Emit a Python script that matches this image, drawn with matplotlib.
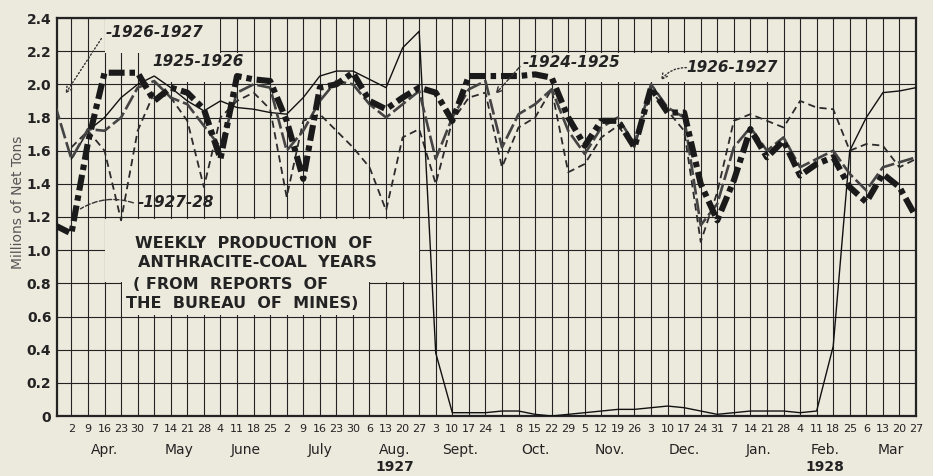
import matplotlib.pyplot as plt
import numpy as np
from matplotlib.patches import Rectangle

# week-ending dates along the 1927-28 coal year
week_labels = ['2', '9', '16', '23', '30', '7', '14', '21', '28', '4', '11', '18', '25',
               '2', '9', '16', '23', '30', '6', '13', '20', '27', '3', '10', '17', '24',
               '1', '8', '15', '22', '29', '5', '12', '19', '26', '3', '10', '17', '24', '31',
               '7', '14', '21', '28', '4', '11', '18', '25', '6', '13', '20', '27']
months = ['Apr.', 'May', 'June', 'July', 'Aug.', 'Sept.', 'Oct.', 'Nov.', 'Dec.', 'Jan.', 'Feb.', 'Mar']
weeks_per_month = [5, 4, 4, 5, 4, 4, 5, 4, 5, 4, 4, 4]
years = ['1927', '1928']
year_month = ['Aug.', 'Feb.']

# millions of net tons, first value is the week before Apr 2
nan = np.nan
y1927_28 = [1.15, 1.10, 1.65, 2.07, 2.07, 2.07, 1.90, 1.98, 1.95, 1.85, 1.55, 2.05, 2.03,
            2.02, 1.78, 1.43, 1.98, 2.00, 2.07, 1.90, 1.85, 1.92, 1.98, 1.95, 1.78, 2.05,
            2.05, 2.05, 2.05, 2.06, 2.04, 1.80, 1.63, 1.78, 1.78, 1.62, 1.98, 1.83, 1.83,
            1.40, 1.18, 1.42, 1.73, 1.56, 1.66, 1.45, 1.52, 1.56, 1.38, 1.29, 1.46, 1.38, 1.20]
y1926_27 = [1.88, 1.55, 1.73, 1.72, 1.80, 1.98, 2.02, 1.92, 1.88, 1.75, 1.62, 1.95, 2.00,
            1.98, 1.60, 1.72, 1.90, 2.02, 2.00, 1.88, 1.80, 1.88, 1.96, 1.55, 1.80, 1.97,
            2.02, 1.62, 1.82, 1.88, 1.97, 1.72, 1.58, 1.74, 1.80, 1.64, 2.00, 1.86, 1.80,
            1.15, 1.28, 1.62, 1.74, 1.60, 1.68, 1.50, 1.55, 1.60, 1.46, 1.36, 1.50, 1.53, 1.56]
y1925_26 = [nan, 1.55, 1.72, 1.80, 1.92, 2.00, 2.05, 1.98, 1.90, 1.84, 1.90, 1.86, 1.85,
            1.83, 1.82, 1.92, 2.05, 2.08, 2.08, 2.03, 1.98, 2.22, 2.32, 0.38, 0.02, 0.02,
            0.02, 0.03, 0.03, 0.01, 0.00, 0.01, 0.02, 0.03, 0.04, 0.04, 0.05, 0.06, 0.05,
            0.03, 0.01, 0.02, 0.03, 0.03, 0.03, 0.02, 0.03, 0.42, 1.60, 1.80, 1.95, 1.96, 1.98]
y1924_25 = [nan, 1.62, 1.72, 1.60, 1.18, 1.72, 1.95, 1.92, 1.78, 1.38, 1.80, 1.90, 1.95,
            1.85, 1.32, 1.78, 1.82, 1.72, 1.62, 1.50, 1.24, 1.68, 1.73, 1.40, 1.78, 1.92,
            1.95, 1.50, 1.74, 1.80, 1.97, 1.47, 1.52, 1.68, 1.75, 1.62, 1.96, 1.84, 1.72,
            1.05, 1.35, 1.78, 1.82, 1.78, 1.74, 1.90, 1.86, 1.85, 1.60, 1.64, 1.63, 1.50, 1.55]

BG = '#ece9dd'
INK = '#232323'

fig = plt.figure(figsize=(9.33, 4.76), dpi=100, facecolor=BG)
ax = fig.add_axes([57 / 933, 1 - 416 / 476, 859 / 933, 398 / 476], facecolor=BG)

x = np.arange(-1, 52)
ax.set_xlim(-0.87, 51)
ax.set_ylim(0, 2.4)

ax.set_xticks(np.arange(52))
ax.set_xticklabels(week_labels, fontsize=8, color=INK)
yt = np.round(np.arange(0, 2.41, 0.2), 1)
ax.set_yticks(yt)
ax.set_yticklabels(['0'] + [f'{v:.1f}' for v in yt[1:]], fontsize=10, fontweight='bold', color=INK)
ax.tick_params(axis='both', length=0)
ax.tick_params(axis='x', pad=6)
ax.tick_params(axis='y', pad=4)

ax.set_axisbelow(True)
ax.grid(True, color=INK, lw=0.8)
for s in ax.spines.values():
    s.set_color(INK)
    s.set_linewidth(1.6)

# blank paper behind the labels and the title block
for (x0, y0, x1, y1) in [(2.04, 2.19, 8.96, 2.4), (4.95, 2.015, 10.4, 2.19),
                         (27.2, 2.015, 42.7, 2.19), (2.04, 0.81, 20.96, 1.19),
                         (3.04, 0.61, 17.96, 0.815)]:
    ax.add_patch(Rectangle((x0, y0), x1 - x0, y1 - y0, facecolor=BG, edgecolor='none', zorder=1.2))

ax.plot(x, y1924_25, color='#2b2b2b', lw=1.3, ls=(0, (4, 2.5)), zorder=3)
ax.plot(x, y1925_26, color='#111111', lw=1.0, zorder=3.2)
ax.plot(x, y1926_27, color='#444444', lw=1.9, ls=(0, (6, 1.5)), zorder=3.4)
ax.plot(x, y1927_28, color='#1a1a1a', lw=4.4, ls=(0, (2.6, 0.8, 0.9, 0.8)),
        dash_capstyle='butt', zorder=4)

lab = dict(fontsize=11, fontstyle='italic', fontweight='bold', color=INK, zorder=6)
ax.text(5.04, 2.31, '-1926-1927', ha='center', va='center', **lab)
ax.text(7.65, 2.135, '1925-1926', ha='center', va='center', **lab)
ax.text(30.2, 2.13, '-1924-1925', ha='center', va='center', **lab)
ax.text(39.9, 2.10, '1926-1927', ha='center', va='center', **lab)
ax.text(6.3, 1.285, '-1927-28', ha='center', va='center', **lab)

lead = dict(color='#333333', lw=1.0)
ax.annotate('', xy=(-0.45, 1.93), xytext=(1.9, 2.29),
            arrowprops=dict(arrowstyle='->', ls=':', **lead), zorder=5)
ax.annotate('', xy=(0.4, 1.24), xytext=(3.9, 1.28),
            arrowprops=dict(arrowstyle='-', ls='--', connectionstyle='arc3,rad=0.25', **lead), zorder=5)
ax.annotate('', xy=(25.5, 1.93), xytext=(27.2, 2.12),
            arrowprops=dict(arrowstyle='->', ls='--', **lead), zorder=5)
ax.annotate('', xy=(35.5, 2.01), xytext=(37.3, 2.10),
            arrowprops=dict(arrowstyle='->', ls=':', connectionstyle='arc3,rad=0.3', **lead), zorder=5)

title = dict(fontsize=11.5, fontweight='bold', color=INK, ha='center', va='center', zorder=6)
ax.text(11.0, 1.04, 'WEEKLY  PRODUCTION  OF', **title)
ax.text(11.2, 0.925, 'ANTHRACITE-COAL  YEARS', **title)
ax.text(9.6, 0.795, '( FROM  REPORTS  OF', **title)
ax.text(10.3, 0.68, 'THE  BUREAU  OF  MINES)', **title)

# month names centred under their weeks, year under Aug. and Feb.
xt = ax.get_xaxis_transform()
start = 0
centres = {}
for m, n in zip(months, weeks_per_month):
    c = start + (n - 1) / 2
    centres[m] = c
    ax.text(c, -0.085, m, transform=xt, ha='center', va='center', fontsize=10, color=INK)
    start += n
for yr, m in zip(years, year_month):
    ax.text(centres[m], -0.128, yr, transform=xt, ha='center', va='center',
            fontsize=10, fontweight='bold', color=INK)

fig.text(18 / 933, 1 - 202 / 476, 'Millions of Net Tons', rotation=90, ha='center',
         va='center', fontsize=10, color='#555555')

fig.savefig('out.png', dpi=100, facecolor=BG)
